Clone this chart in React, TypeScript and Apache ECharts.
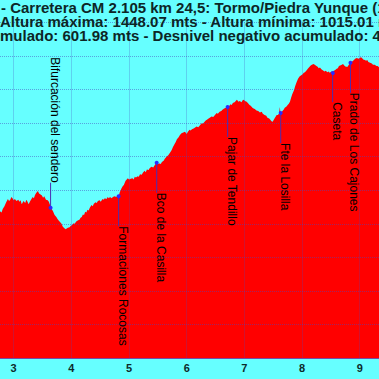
import React, { useEffect, useRef } from "react";
import * as echarts from "echarts";

// Elevation profile (km, metres)
const KM = [2.70,2.74,2.76,2.79,2.81,2.84,2.87,2.90,2.92,2.94,2.96,2.98,3.00,3.02,3.05,3.08,3.10,3.12,3.14,3.17,3.20,3.22,3.24,3.26,3.28,3.30,3.33,3.35,3.37,3.39,3.42,3.44,3.46,3.49,3.51,3.53,3.56,3.59,3.61,3.63,3.65,3.68,3.71,3.74,3.76,3.78,3.80,3.83,3.85,3.87,3.90,3.92,3.94,3.97,3.99,4.01,4.04,4.06,4.08,4.11,4.14,4.16,4.18,4.20,4.22,4.24,4.26,4.28,4.30,4.32,4.35,4.37,4.39,4.42,4.44,4.46,4.49,4.51,4.54,4.56,4.58,4.61,4.63,4.65,4.67,4.70,4.72,4.75,4.78,4.80,4.82,4.84,4.87,4.89,4.91,4.94,4.96,4.98,5.00,5.03,5.06,5.08,5.10,5.12,5.15,5.17,5.19,5.22,5.24,5.27,5.29,5.31,5.34,5.36,5.39,5.42,5.45,5.48,5.50,5.53,5.55,5.57,5.60,5.62,5.65,5.68,5.71,5.74,5.76,5.79,5.81,5.83,5.86,5.88,5.91,5.94,5.97,6.00,6.02,6.05,6.07,6.09,6.12,6.14,6.17,6.20,6.23,6.26,6.28,6.31,6.33,6.35,6.38,6.40,6.43,6.46,6.49,6.52,6.54,6.57,6.60,6.62,6.65,6.68,6.71,6.74,6.76,6.78,6.80,6.83,6.85,6.87,6.90,6.92,6.95,6.97,6.99,7.01,7.04,7.06,7.09,7.11,7.14,7.16,7.18,7.21,7.24,7.27,7.30,7.32,7.35,7.38,7.40,7.43,7.45,7.47,7.49,7.51,7.53,7.56,7.58,7.60,7.615,7.625,7.64,7.66,7.68,7.70,7.73,7.75,7.77,7.79,7.81,7.83,7.86,7.88,7.90,7.93,7.96,7.98,8.01,8.03,8.05,8.08,8.10,8.13,8.15,8.17,8.20,8.22,8.25,8.27,8.29,8.31,8.34,8.36,8.39,8.41,8.44,8.46,8.48,8.51,8.53,8.55,8.57,8.60,8.62,8.64,8.66,8.69,8.71,8.74,8.76,8.79,8.81,8.84,8.87,8.90,8.92,8.95,8.98,9.00,9.02,9.04,9.06,9.09,9.11,9.13,9.15,9.18,9.21,9.23,9.26,9.29,9.31,9.34,9.40];
const ELEV = [1212,1216,1219,1217,1222,1226,1232,1237,1234,1236,1240,1238,1235,1237,1234,1236,1233,1235,1229,1234,1231,1236,1233,1229,1233,1236,1240,1238,1243,1246,1249,1245,1244,1242,1239,1241,1236,1235,1233,1228,1223,1219,1213,1210,1207,1205,1203,1200,1196,1194,1192,1193,1194,1195,1197,1198,1201,1200,1203,1205,1206,1209,1210,1214,1213,1218,1217,1221,1220,1224,1228,1226,1230,1232,1231,1234,1235,1233,1237,1236,1238,1237,1240,1238,1240,1238,1240,1241,1240,1242,1241,1247,1253,1256,1258,1264,1266,1268,1266,1267,1268,1266,1270,1269,1271,1270,1274,1273,1276,1279,1277,1281,1280,1283,1285,1284,1288,1291,1289,1290,1289,1292,1294,1297,1300,1302,1306,1310,1314,1319,1322,1326,1329,1332,1335,1336,1337,1334,1337,1340,1339,1341,1342,1343,1345,1344,1347,1350,1349,1352,1354,1355,1357,1358,1360,1359,1362,1365,1364,1367,1368,1370,1372,1373,1374,1376,1378,1377,1380,1381,1383,1385,1382,1383,1381,1384,1385,1383,1382,1380,1377,1376,1373,1372,1371,1369,1368,1366,1367,1364,1362,1361,1358,1357,1355,1353,1352,1355,1358,1362,1362,1364,1374,1366,1366,1368,1370,1373,1375,1377,1379,1382,1388,1393,1399,1405,1410,1416,1420,1421,1423,1425,1426,1429,1431,1434,1436,1437,1438,1437,1435,1434,1432,1433,1430,1429,1427,1428,1426,1427,1425,1427,1426,1428,1429,1431,1432,1435,1436,1437,1438,1435,1434,1434,1437,1440,1442,1444,1446,1447,1446,1447,1448.07,1447,1445,1444,1443,1444,1441,1440,1439,1437,1437,1435,1435,1433,1432];

// Waypoints
const WAYPOINT_NAMES = ["Bifurcación del sendero","Formaciones Rocosas","Bco de la Casilla","Pajar de Tendillo","Fte la Losilla","Caseta","Prado de Los Cajones"];
const WAYPOINT_KM = [3.64, 4.82, 5.48, 6.71, 7.63, 8.53, 8.84];
const WAYPOINT_ELEV = [1224, 1241, 1291, 1374, 1365, 1426, 1440];
const WAYPOINT_ABOVE = [true, false, false, false, false, false, false];

// Title lines (visible parts)
const TITLE_LINES = [
  "- Carretera CM 2.105 km 24,5: Tormo/Piedra Yunque (1",
  "Altura máxima: 1448.07 mts - Altura mínima: 1015.01 m",
  "mulado: 601.98 mts - Desnivel negativo acumulado: 4",
];

const SHIFT = 44; // chart area extends beyond the visible window on the left

export default function App() {
  const ref = useRef<HTMLDivElement>(null);
  useEffect(() => {
    if (!ref.current) return;
    const chart = echarts.init(ref.current, null, { renderer: "svg" });
    const FONT = '"Liberation Sans", Arial, sans-serif';
    const titleY = [7.5, 21, 35];
    const titleX = [1, 0, 0];
    chart.setOption({
      animation: false,
      backgroundColor: "#66FFFF",
      grid: { left: 0, top: 22.5, width: 461.4, height: 335.5, containLabel: false },
      xAxis: {
        type: "value",
        min: 2,
        max: 10,
        interval: 1,
        z: 3,
        axisLine: { show: true, lineStyle: { color: "#7a4aa0", width: 1 } },
        axisTick: { show: false },
        axisLabel: {
          color: "#0d2b2b", fontWeight: "bold", fontSize: 11, fontFamily: FONT, margin: 4,
          showMinLabel: false, showMaxLabel: false,
        },
        splitLine: { show: true, lineStyle: { color: "#4848c0", type: "dotted", width: 1, opacity: 0.5 } },
      },
      yAxis: {
        type: "value",
        min: 1000,
        max: 1500,
        interval: 50,
        z: 3,
        axisLine: { show: false },
        axisTick: { show: false },
        axisLabel: { show: false },
        splitLine: { show: true, lineStyle: { color: "#4848c0", type: "dotted", width: 1, opacity: 0.5 } },
      },
      series: [
        {
          type: "line",
          data: KM.map((k, i) => [k, ELEV[i]]),
          showSymbol: false,
          symbol: "none",
          lineStyle: { width: 0 },
          areaStyle: { color: "#FF0000", opacity: 1 },
          z: 2,
        },
        {
          type: "custom",
          coordinateSystem: "cartesian2d",
          z: 5,
          clip: false,
          data: WAYPOINT_KM.map((k, i) => [k, WAYPOINT_ELEV[i]]),
          encode: { x: 0, y: 1 },
          renderItem: (params: any, api: any) => {
            const i = params.dataIndex;
            const p = api.coord([api.value(0), api.value(1)]);
            const above = WAYPOINT_ABOVE[i];
            const end = p[1] + (above ? -25 : 30);
            return {
              type: "group",
              children: [
                { type: "line", shape: { x1: p[0], y1: p[1], x2: p[0], y2: end }, style: { stroke: "#4b2fb0", lineWidth: 1 } },
                { type: "circle", shape: { cx: p[0], cy: p[1], r: 2 }, style: { fill: "#2a2aff" } },
                {
                  type: "text",
                  x: p[0] - 2,
                  y: end,
                  rotation: -Math.PI / 2,
                  style: {
                    text: WAYPOINT_NAMES[i],
                    fill: "#000000",
                    font: `12px ${FONT}`,
                    align: above ? "right" : "left",
                    verticalAlign: "bottom",
                  },
                },
              ],
            };
          },
        },
      ],
      graphic: TITLE_LINES.map((t, i) => ({
        type: "text",
        x: titleX[i] + SHIFT,
        y: titleY[i],
        z: 100,
        style: {
          text: t, fill: "#0d2626", font: `bold 15px ${FONT}`, lineHeight: 13,
          align: "left", verticalAlign: "middle",
        },
      })),
    });
    return () => chart.dispose();
  }, []);
  return (
    <div style={{ position: "absolute", left: 0, top: 0, width: 379, height: 379, overflow: "hidden" }}>
      <div ref={ref} style={{ position: "absolute", left: -SHIFT, top: 0, width: 462, height: 379 }} />
    </div>
  );
}
